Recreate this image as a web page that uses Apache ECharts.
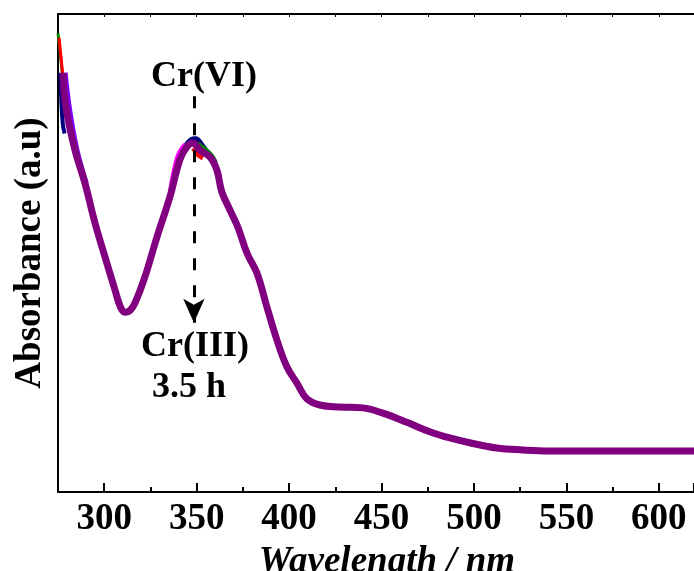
<!DOCTYPE html>
<html>
<head>
<meta charset="utf-8">
<script src="https://cdn.jsdelivr.net/npm/echarts@6/dist/echarts.min.js"></script>
<style>
html,body{margin:0;padding:0;background:#fff;}
#chart{width:694px;height:571px;}
</style>
</head>
<body>
<div id="chart"></div>
<script>
// Wavelength (nm) and absorbance (a.u.) of the main (3.5 h, purple) spectrum
var wavelength = [277.7, 279.3, 284.2, 289.6, 295.0, 300.4, 305.8, 309.0, 311.5, 314.0, 316.6, 322.0, 328.5, 335.5, 340.9, 344.7, 348.0, 351.8, 357.2, 360.9, 363.6, 368.0, 372.3, 377.2, 382.6, 388.0, 393.4, 398.8, 404.2, 409.6, 416.6, 427.4, 439.9, 450.7, 463.6, 476.1, 486.9, 497.7, 512.3, 526.4, 540.9, 568.0, 619.0];
var absorbance = [0.877, 0.805, 0.715, 0.646, 0.563, 0.492, 0.423, 0.385, 0.376, 0.380, 0.395, 0.450, 0.533, 0.617, 0.695, 0.722, 0.730, 0.715, 0.701, 0.674, 0.628, 0.590, 0.554, 0.500, 0.458, 0.387, 0.318, 0.262, 0.228, 0.195, 0.182, 0.178, 0.176, 0.165, 0.146, 0.126, 0.113, 0.103, 0.092, 0.088, 0.086, 0.086, 0.086];

// Earlier spectra: only the small parts that peek out from under the final one
var greenStartX = [275.0, 276.6, 278.2, 279.9];
var greenStartY = [0.960, 0.904, 0.841, 0.799];
var redStartX = [275.6, 277.0, 278.6, 280.2];
var redStartY = [0.950, 0.895, 0.838, 0.797];
var blueStartX = [276.3, 276.8, 277.6, 278.6];
var blueStartY = [0.877, 0.820, 0.770, 0.750];
var violetStartX = [278.6, 281.0, 285.0, 290.0];
var violetStartY = [0.877, 0.800, 0.715, 0.646];
var bluePeakX = [344.0, 347.0, 349.5, 352.5, 355.0];
var bluePeakY = [0.722, 0.736, 0.738, 0.726, 0.712];
var greenPeakX = [350.0, 354.0, 357.5, 360.0];
var greenPeakY = [0.728, 0.717, 0.704, 0.688];
var redPeakX = [348.5, 351.0, 353.5];
var redPeakY = [0.720, 0.706, 0.700];
var magentaPeakX = [336.0, 340.0, 344.0];
var magentaPeakY = [0.625, 0.700, 0.726];

// Annotation arrow (wavelength, absorbance range)
var arrowX = 348.5;
var arrowTop = 0.828;
var arrowBottom = 0.354;

var xMin = 275, xMax = 619;
var tickLabelStep = 50;

function pairs(xs, ys) {
  return xs.map(function (x, i) { return [x, ys[i]]; });
}

var FONT = "'Liberation Serif','Times New Roman',serif";
var chart = echarts.init(document.getElementById('chart'));

function thin(name, color, xs, ys, w) {
  return {
    name: name, type: 'line', xAxisIndex: 0, yAxisIndex: 0,
    data: pairs(xs, ys), smooth: 0.4, showSymbol: false, silent: true,
    lineStyle: { color: color, width: w || 4 }
  };
}

chart.setOption({
  animation: false,
  backgroundColor: '#ffffff',
  grid: { left: 58, right: 0, top: 14, bottom: 79, containLabel: false, outerBoundsMode: 'none' },
  xAxis: [
    {
      type: 'value', position: 'bottom', min: xMin, max: xMax,
      minInterval: tickLabelStep, maxInterval: tickLabelStep,
      name: 'Wavelength / nm', nameLocation: 'middle', nameGap: 52,
      nameTextStyle: { fontFamily: FONT, fontWeight: 'bold', fontStyle: 'italic', fontSize: 37, color: '#000', padding: [0, 0, 0, 22] },
      axisLine: { show: true, lineStyle: { color: '#000', width: 2 } },
      axisTick: { show: true, inside: true, length: 9, lineStyle: { color: '#000', width: 2 } },
      minorTick: { show: false },
      splitLine: { show: false },
      axisLabel: {
        show: true, margin: 9, fontFamily: FONT, fontWeight: 'bold', fontSize: 37, color: '#000',
        formatter: function (v) { return (Math.abs(v % tickLabelStep) < 1e-6) ? String(v) : ''; }
      }
    },
    {
      type: 'value', position: 'top', min: xMin, max: xMax, interval: 25,
      axisLine: { show: true, lineStyle: { color: '#000', width: 2 } },
      axisTick: { show: true, inside: true, length: 3, lineStyle: { color: '#000', width: 1 } },
      axisLabel: { show: false }, splitLine: { show: false }
    },
    {
      type: 'value', position: 'bottom', min: xMin, max: xMax, interval: 25,
      axisLine: { show: false },
      axisTick: { show: true, inside: true, length: 5, lineStyle: { color: '#000', width: 2 } },
      axisLabel: { show: false }, splitLine: { show: false }
    }
  ],
  yAxis: [{
    type: 'value', min: 0, max: 1,
    name: 'Absorbance (a.u)', nameLocation: 'middle', nameGap: 9,
    nameTextStyle: { fontFamily: FONT, fontWeight: 'bold', fontSize: 37, color: '#000' },
    axisLine: { show: true, lineStyle: { color: '#000', width: 2 } },
    axisTick: { show: false }, axisLabel: { show: false }, splitLine: { show: false }
  }],
  series: [
    thin('green start', '#008000', greenStartX, greenStartY, 3),
    thin('red start', '#ff0000', redStartX, redStartY, 3),
    thin('blue start', '#000080', blueStartX, blueStartY, 4),
    thin('violet start', '#8000ff', violetStartX, violetStartY, 6),
    thin('blue peak', '#000080', bluePeakX, bluePeakY, 6),
    thin('green peak', '#008000', greenPeakX, greenPeakY, 6),
    thin('red peak', '#ff0000', redPeakX, redPeakY, 6),
    thin('magenta peak', '#ff00ff', magentaPeakX, magentaPeakY, 6),
    {
      name: '3.5 h', type: 'line', xAxisIndex: 0, yAxisIndex: 0,
      data: pairs(wavelength, absorbance), smooth: 0.4, showSymbol: false, silent: true,
      lineStyle: { color: '#800080', width: 7 },
      markLine: {
        silent: true, animation: false,
        symbol: ['none', 'arrow'],
        symbolSize: [16, 24],
        label: { show: false },
        lineStyle: { color: '#000', width: 3, type: [12, 15] },
        data: [[{ coord: [arrowX, arrowTop] }, { coord: [arrowX, arrowBottom] }]]
      }
    }
  ],
  graphic: [
    { type: 'text', x: 204, y: 77, style: { text: 'Cr(VI)', fontFamily: FONT, fontWeight: 'bold', fontSize: 36, fill: '#000', align: 'center', verticalAlign: 'middle' } },
    { type: 'text', x: 195, y: 347, style: { text: 'Cr(III)', fontFamily: FONT, fontWeight: 'bold', fontSize: 36, fill: '#000', align: 'center', verticalAlign: 'middle' } },
    { type: 'text', x: 189, y: 388, style: { text: '3.5 h', fontFamily: FONT, fontWeight: 'bold', fontSize: 36, fill: '#000', align: 'center', verticalAlign: 'middle' } }
  ]
});
</script>
</body>
</html>
